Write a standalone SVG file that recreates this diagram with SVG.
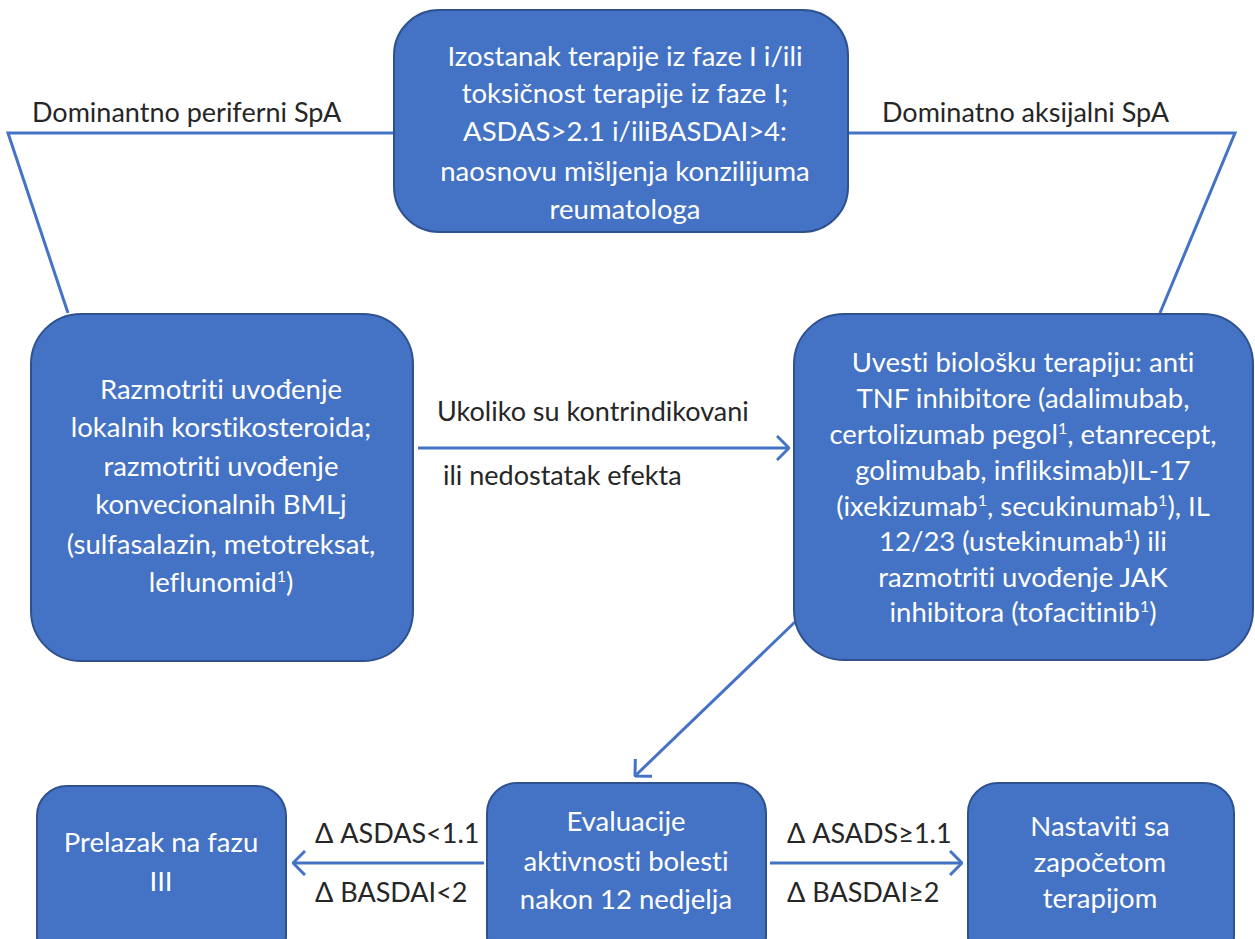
<svg xmlns="http://www.w3.org/2000/svg" width="1255" height="939" viewBox="0 0 1255 939">
<style>
.node rect{fill:#4472C4;stroke:#2F528F;stroke-width:2}
.nt{fill:#ffffff;font-family:Lato,"Liberation Sans",sans-serif;font-size:27.5px;text-anchor:middle;font-variant-ligatures:none}
.lbl{fill:#262626;font-family:Lato,"Liberation Sans",sans-serif;font-size:27px;font-variant-ligatures:none}
.ln{stroke:#4472C4;stroke-width:3;fill:none}
.sup{font-size:16px}
</style>
<defs>
<marker id="arr" markerUnits="userSpaceOnUse" viewBox="0 0 14 26" refX="13" refY="13" markerWidth="14" markerHeight="26" orient="auto">
<path d="M1,1 L13,13 L1,25" fill="none" stroke="#4472C4" stroke-width="3"/>
</marker>
</defs>
<rect width="1255" height="939" fill="#ffffff"/>
<g id="connectors">
<polyline class="ln" points="394,133 8,133 68,313"/>
<polyline class="ln" points="848,133 1235,133 1160,313"/>
<line class="ln" x1="418" y1="448" x2="789" y2="448" marker-end="url(#arr)"/>
<line class="ln" x1="795" y1="622" x2="635" y2="776" marker-end="url(#arr)"/>
<line class="ln" x1="484" y1="863" x2="293" y2="863" marker-end="url(#arr)"/>
<line class="ln" x1="770" y1="863" x2="962" y2="863" marker-end="url(#arr)"/>
<text class="lbl" x="32" y="122">Dominantno periferni SpA</text>
<text class="lbl" x="882" y="122">Dominatno aksijalni SpA</text>
<text class="lbl" x="437" y="421">Ukoliko su kontrindikovani</text>
<text class="lbl" x="443" y="485">ili nedostatak efekta</text>
<text class="lbl" x="315" y="843">Δ ASDAS&lt;1.1</text>
<text class="lbl" x="315" y="902">Δ BASDAI&lt;2</text>
<text class="lbl" x="787" y="843">Δ ASADS≥1.1</text>
<text class="lbl" x="787" y="902">Δ BASDAI≥2</text>
</g>
<g id="node-top" class="node">
<rect x="394" y="10" width="454" height="222" rx="45"/>
<text class="nt" x="625" y="66">Izostanak terapije iz faze I i/ili</text>
<text class="nt" x="625" y="103">toksičnost terapije iz faze I;</text>
<text class="nt" x="625" y="141">ASDAS&gt;2.1 i/iliBASDAI&gt;4:</text>
<text class="nt" x="625" y="181">naosnovu mišljenja konzilijuma</text>
<text class="nt" x="625" y="219">reumatologa</text>
</g>
<g id="node-left" class="node">
<rect x="31" y="314" width="382" height="347" rx="50"/>
<text class="nt" x="221" y="399">Razmotriti uvođenje</text>
<text class="nt" x="221" y="437">lokalnih korstikosteroida;</text>
<text class="nt" x="221" y="476">razmotriti uvođenje</text>
<text class="nt" x="221" y="514">konvecionalnih BMLj</text>
<text class="nt" x="221" y="554">(sulfasalazin, metotreksat,</text>
<text class="nt" x="221" y="592">leflunomid<tspan class="sup" dy="-10">1</tspan><tspan dy="10">)</tspan></text>
</g>
<g id="node-right" class="node">
<rect x="794" y="314" width="459" height="346" rx="50"/>
<text class="nt" x="1023" y="372">Uvesti biološku terapiju: anti</text>
<text class="nt" x="1023" y="408">TNF inhibitore (adalimubab,</text>
<text class="nt" x="1023" y="444">certolizumab pegol<tspan class="sup" dy="-10">1</tspan><tspan dy="10">, etanrecept,</tspan></text>
<text class="nt" x="1023" y="480">golimubab, infliksimab)IL-17</text>
<text class="nt" x="1023" y="516">(ixekizumab<tspan class="sup" dy="-10">1</tspan><tspan dy="10">, secukinumab</tspan><tspan class="sup" dy="-10">1</tspan><tspan dy="10">), IL</tspan></text>
<text class="nt" x="1023" y="551">12/23 (ustekinumab<tspan class="sup" dy="-10">1</tspan><tspan dy="10">) ili</tspan></text>
<text class="nt" x="1023" y="587">razmotriti uvođenje JAK</text>
<text class="nt" x="1023" y="622">inhibitora (tofacitinib<tspan class="sup" dy="-10">1</tspan><tspan dy="10">)</tspan></text>
</g>
<g id="node-phase3" class="node">
<rect x="37" y="786" width="249" height="180" rx="30"/>
<text class="nt" x="161" y="852">Prelazak na fazu</text>
<text class="nt" x="161" y="891">III</text>
</g>
<g id="node-eval" class="node">
<rect x="487" y="783" width="279" height="183" rx="30"/>
<text class="nt" x="626" y="831">Evaluacije</text>
<text class="nt" x="626" y="871">aktivnosti bolesti</text>
<text class="nt" x="626" y="909">nakon 12 nedjelja</text>
</g>
<g id="node-continue" class="node">
<rect x="968" y="783" width="266" height="183" rx="30"/>
<text class="nt" x="1100" y="836">Nastaviti sa</text>
<text class="nt" x="1100" y="872">započetom</text>
<text class="nt" x="1100" y="908">terapijom</text>
</g>
</svg>
